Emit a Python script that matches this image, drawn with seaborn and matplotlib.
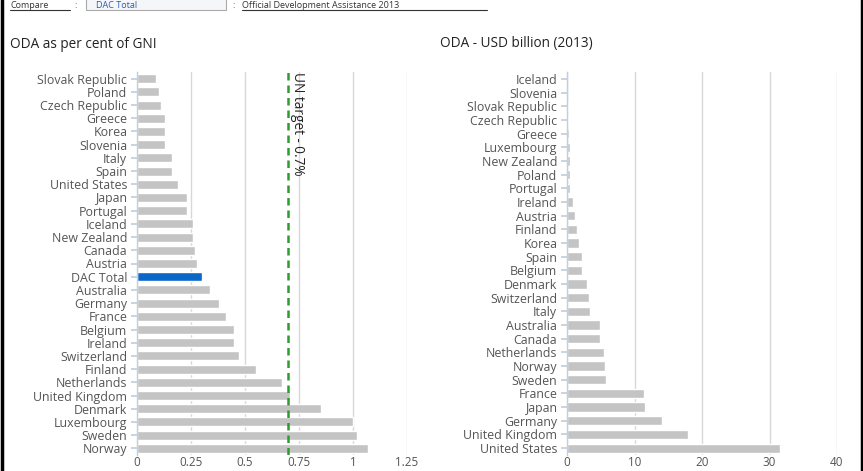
import numpy as np
import pandas as pd
import matplotlib
matplotlib.use("Agg")
import matplotlib.pyplot as plt
import seaborn as sns

# Left panel: ODA as per cent of GNI
gni_countries = [
    "Slovak Republic", "Poland", "Czech Republic", "Greece", "Korea", "Slovenia",
    "Italy", "Spain", "United States", "Japan", "Portugal", "Iceland",
    "New Zealand", "Canada", "Austria", "DAC Total", "Australia", "Germany",
    "France", "Belgium", "Ireland", "Switzerland", "Finland", "Netherlands",
    "United Kingdom", "Denmark", "Luxembourg", "Sweden", "Norway",
]
gni_values = [
    0.09, 0.10, 0.11, 0.13, 0.13, 0.13,
    0.16, 0.16, 0.19, 0.23, 0.23, 0.26,
    0.26, 0.27, 0.28, 0.30, 0.34, 0.38,
    0.41, 0.45, 0.45, 0.47, 0.55, 0.67,
    0.71, 0.85, 1.00, 1.02, 1.07,
]

# Right panel: ODA in USD billion (2013)
usd_countries = [
    "Iceland", "Slovenia", "Slovak Republic", "Czech Republic", "Greece",
    "Luxembourg", "New Zealand", "Poland", "Portugal", "Ireland", "Austria",
    "Finland", "Korea", "Spain", "Belgium", "Denmark", "Switzerland", "Italy",
    "Australia", "Canada", "Netherlands", "Norway", "Sweden", "France",
    "Japan", "Germany", "United Kingdom", "United States",
]
usd_values = [
    0.04, 0.06, 0.09, 0.21, 0.24,
    0.43, 0.46, 0.47, 0.49, 0.82, 1.17,
    1.44, 1.74, 2.20, 2.28, 2.93, 3.20, 3.43,
    4.85, 4.91, 5.44, 5.58, 5.83, 11.34,
    11.58, 14.06, 17.87, 31.55,
]

UN_TARGET = 0.7
GREY = "#c4c4c4"
HIGHLIGHT = "#0a67c8"
TEXT = "#555555"

sns.set_theme(style="white")
plt.rcParams["font.family"] = ["Open Sans", "DejaVu Sans"]

fig = plt.figure(figsize=(8.63, 4.71), dpi=100)
# axes boxes in pixels (top, bottom) converted to figure fractions
ax1 = fig.add_axes([137 / 863, 1 - 455 / 471, 270 / 863, 383 / 471])
ax2 = fig.add_axes([567 / 863, 1 - 455 / 471, 270 / 863, 383 / 471])

df_gni = pd.DataFrame({"Country": gni_countries, "Value": gni_values})
df_usd = pd.DataFrame({"Country": usd_countries, "Value": usd_values})

gni_colors = [HIGHLIGHT if c == "DAC Total" else GREY for c in gni_countries]
sns.barplot(data=df_gni, y="Country", x="Value", hue="Country", palette=gni_colors,
            legend=False, width=0.68, ax=ax1, saturation=1)
sns.barplot(data=df_usd, y="Country", x="Value", color=GREY,
            width=0.68, ax=ax2, saturation=1)

for ax, ticks in ((ax1, [0, 0.25, 0.5, 0.75, 1, 1.25]), (ax2, [0, 10, 20, 30, 40])):
    ax.set_xlim(ticks[0], ticks[-1])
    ax.set_xticks(ticks)
    ax.set_xticklabels([f"{t:g}" for t in ticks])
    ax.set_xlabel("")
    ax.set_ylabel("")
    ax.grid(axis="x", color="#d8d8d8", linewidth=1)
    ax.set_axisbelow(True)
    for s in ("top", "right", "bottom"):
        ax.spines[s].set_visible(False)
    ax.spines["left"].set_color("#c0d0e0")
    ax.spines["left"].set_linewidth(1)
    ax.tick_params(axis="y", length=4, color="#c0d0e0", labelsize=8.9,
                   labelcolor=TEXT, pad=3, left=True)
    ax.tick_params(axis="x", length=0, labelsize=8.4, labelcolor=TEXT, pad=1)
    ax.set_ylim(len(ax.get_yticks()) - 0.5, -0.5)

# UN target line
ax1.axvline(UN_TARGET, color="#2f9a2f", linestyle=(0, (3, 2)), linewidth=1.8, zorder=5)
ax1.text(UN_TARGET + 0.008, -0.5, "UN target - 0.7%", rotation=-90, va="top", ha="left",
         fontsize=9.8, color="#222222", zorder=6)

# Panel titles
fig.text(10 / 863, 1 - 44 / 471, "ODA as per cent of GNI", fontsize=9.8, color="#222222",
         va="center", ha="left")
fig.text(440 / 863, 1 - 44 / 471, "ODA - USD billion (2013)", fontsize=9.8, color="#222222",
         va="center", ha="left")

# Header strip (mostly cropped off in the screenshot)
hdr_y = 1 - 1 / 471
fig.text(10 / 863, hdr_y, "Compare", fontsize=6.5, color="#333333", va="top", ha="left")
fig.text(74 / 863, hdr_y, ":", fontsize=6.5, color="#333333", va="top", ha="left")
fig.text(232 / 863, hdr_y, ":", fontsize=6.5, color="#333333", va="top", ha="left")
fig.text(242 / 863, hdr_y, "Official Development Assistance 2013", fontsize=6.5,
         color="#333333", va="top", ha="left")
fig.patches.append(plt.Rectangle((86 / 863, 1 - 10 / 471), 140 / 863, 14 / 471,
                                 transform=fig.transFigure, facecolor="#f4f6fa",
                                 edgecolor="#aaaaaa", linewidth=0.8))
fig.text(96 / 863, hdr_y, "DAC Total", fontsize=6.5, color="#2a5db0", va="top", ha="left")
for x0, x1 in ((10, 70), (242, 487)):
    fig.add_artist(plt.Line2D([x0 / 863, x1 / 863], [1 - 10 / 471] * 2, color="#333333",
                              linewidth=0.8, transform=fig.transFigure))

# Screenshot borders
fig.add_artist(plt.Line2D([1.5 / 863, 1.5 / 863], [0, 1], color="black", linewidth=2.5,
                          transform=fig.transFigure))
fig.add_artist(plt.Line2D([861.5 / 863, 861.5 / 863], [0, 1], color="black", linewidth=2.5,
                          transform=fig.transFigure))

fig.savefig("out.png", dpi=100)
